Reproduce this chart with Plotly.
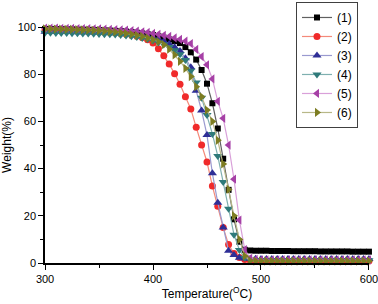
import plotly.graph_objects as go

temperature = [300, 305, 310, 315, 320, 325, 330, 335, 340, 345, 350, 355, 360, 365, 370,
               375, 380, 385, 390, 395, 400, 405, 410, 415, 420, 425, 430, 435, 440, 445,
               450, 455, 460, 465, 470, 475, 480, 485, 490, 495, 500, 505, 510, 515, 520,
               525, 530, 535, 540, 545, 550, 555, 560, 565, 570, 575, 580, 585, 590, 595, 600]

w1 = [99.2, 99.2, 99.1, 99.1, 99.0, 99.0, 98.9, 98.9, 98.8, 98.8, 98.7, 98.6, 98.5, 98.4, 98.3,
      98.1, 97.9, 97.6, 97.3, 97.0, 96.6, 96.1, 95.5, 94.8, 94.0, 93.2, 91.5, 89.3, 86.2, 81.8,
      76.0, 67.7, 57.0, 44.2, 31.0, 18.5, 9.0, 5.6, 5.3, 5.2, 5.2, 5.2, 5.1, 5.1, 5.1,
      5.1, 5.0, 5.0, 5.0, 5.0, 5.0, 4.9, 4.9, 4.9, 4.9, 4.9, 4.9, 4.8, 4.8, 4.8, 4.8]

w2 = [98.8, 98.8, 98.7, 98.7, 98.6, 98.6, 98.5, 98.4, 98.3, 98.2, 98.1, 98.0, 97.8, 97.6, 97.4,
      97.1, 96.7, 96.2, 95.6, 94.6, 93.2, 90.8, 87.8, 84.3, 80.2, 75.8, 70.5, 65.3, 57.5, 50.0,
      42.8, 32.6, 24.0, 15.0, 7.8, 4.0, 2.3, 1.5, 1.1, 1.0, 1.0, 0.9, 0.9, 0.9, 0.9,
      0.9, 0.9, 0.9, 0.9, 0.8, 0.8, 0.8, 0.8, 0.8, 0.8, 0.8, 0.8, 0.8, 0.8, 0.8, 0.8]

w3 = [98.0, 98.0, 98.0, 97.9, 97.9, 97.9, 97.8, 97.8, 97.8, 97.7, 97.7, 97.6, 97.5, 97.4, 97.3,
      97.2, 97.0, 96.7, 96.4, 96.0, 95.5, 94.8, 93.9, 92.8, 91.4, 89.8, 86.8, 83.0, 73.0, 64.6,
      54.2, 38.0, 25.5, 15.0, 5.2, 3.4, 2.2, 1.9, 1.8, 1.8, 1.7, 1.7, 1.7, 1.7, 1.7,
      1.7, 1.7, 1.7, 1.7, 1.7, 1.7, 1.7, 1.7, 1.7, 1.7, 1.7, 1.7, 1.7, 1.7, 1.7, 1.7]

w4 = [97.6, 97.6, 97.5, 97.5, 97.5, 97.4, 97.4, 97.3, 97.3, 97.2, 97.1, 97.0, 96.9, 96.8, 96.6,
      96.4, 96.1, 95.8, 95.4, 94.9, 94.3, 93.5, 92.6, 91.5, 90.2, 88.5, 86.0, 81.5, 76.5, 70.0,
      62.7, 54.7, 45.3, 34.3, 23.0, 12.0, 5.5, 2.2, 1.3, 1.2, 1.2, 1.2, 1.2, 1.2, 1.2,
      1.2, 1.2, 1.2, 1.2, 1.2, 1.2, 1.2, 1.2, 1.2, 1.2, 1.2, 1.2, 1.2, 1.2, 1.2, 1.2]

w5 = [99.5, 99.5, 99.5, 99.4, 99.4, 99.4, 99.3, 99.3, 99.3, 99.2, 99.2, 99.1, 99.0, 98.9, 98.8,
      98.7, 98.5, 98.3, 98.0, 97.7, 97.3, 96.9, 96.5, 96.0, 95.4, 94.8, 94.0, 93.0, 90.5, 87.5,
      84.0, 78.0, 68.5, 61.3, 50.0, 35.5, 18.2, 5.7, 2.0, 1.5, 1.3, 1.3, 1.3, 1.3, 1.3,
      1.3, 1.3, 1.3, 1.3, 1.3, 1.3, 1.3, 1.3, 1.3, 1.3, 1.3, 1.3, 1.3, 1.3, 1.3, 1.3]

w6 = [99.2, 99.2, 99.1, 99.1, 99.0, 99.0, 98.9, 98.8, 98.7, 98.6, 98.5, 98.3, 98.1, 97.9, 97.6,
      97.3, 96.9, 96.5, 96.0, 95.4, 94.7, 93.8, 92.5, 90.6, 88.2, 85.5, 82.5, 79.0, 74.7, 70.5,
      64.8, 60.0, 52.0, 42.0, 31.2, 20.0, 10.0, 3.0, 1.0, 0.8, 0.8, 0.8, 0.8, 0.8, 0.8,
      0.8, 0.8, 0.8, 0.8, 0.8, 0.8, 0.8, 0.8, 0.8, 0.8, 0.8, 0.8, 0.8, 0.8, 0.8, 0.8]

x_ticks = [300, 400, 500, 600]
y_ticks = [0, 20, 40, 60, 80, 100]

names = ["(1)", "(2)", "(3)", "(4)", "(5)", "(6)"]
series = [w1, w2, w3, w4, w5, w6]
marker_colors = ["#000000", "#f02a2a", "#2e2e96", "#2f7a7a", "#a640a6", "#7d7d22"]
line_colors = ["#606060", "#f48a7a", "#9a9ad0", "#7fb0b0", "#d9a0d9", "#b8b888"]
symbols = ["square", "circle", "triangle-up", "triangle-down", "triangle-left", "triangle-right"]
sizes = [6, 7, 8, 8, 8, 8]

fig = go.Figure()
for name, ys, mc, lc, sym, sz in zip(names, series, marker_colors, line_colors, symbols, sizes):
    fig.add_trace(go.Scatter(
        x=temperature, y=ys, name=name, mode="lines+markers",
        line=dict(color=lc, width=1.2),
        marker=dict(symbol=sym, size=sz, color=mc, line=dict(width=0)),
        cliponaxis=False,
    ))

font_family = "Liberation Sans, Arial, sans-serif"
fig.update_layout(
    width=378, height=304,
    margin=dict(l=45, r=9, t=27, b=41, autoexpand=False),
    paper_bgcolor="white", plot_bgcolor="white",
    font=dict(family=font_family, size=11, color="#000000"),
    legend=dict(
        x=0.966, xanchor="right", y=1.106, yanchor="top",
        bordercolor="#404040", borderwidth=1, bgcolor="white",
        font=dict(size=12), tracegroupgap=0,
    ),
    xaxis=dict(
        range=[299.95, 600.05], tickmode="array", tickvals=x_ticks,
        ticktext=[str(v) for v in x_ticks], automargin=False,
        ticklabeloverflow="allow",
        showline=True, linecolor="#000000", linewidth=1.5, mirror=False,
        ticks="outside", ticklen=5, tickwidth=1.2, tickcolor="#000000",
        minor=dict(ticks="outside", ticklen=3, tickvals=[350, 450, 550],
                   tickcolor="#000000", tickwidth=1),
        showgrid=False, zeroline=False,
        title=dict(text="Temperature(<sup>O</sup>C)", font=dict(size=12), standoff=5),
    ),
    yaxis=dict(
        range=[0, 100.02], tickmode="array", tickvals=y_ticks,
        ticktext=[str(v) for v in y_ticks], automargin=False,
        ticklabeloverflow="allow",
        showline=True, linecolor="#000000", linewidth=1.5, mirror=False,
        ticks="outside", ticklen=5, tickwidth=1.2, tickcolor="#000000",
        minor=dict(ticks="outside", ticklen=3, tickvals=[10, 30, 50, 70, 90],
                   tickcolor="#000000", tickwidth=1),
        showgrid=False, zeroline=False,
        title=dict(text="Weight(%)", font=dict(size=12), standoff=6),
    ),
)

fig.write_html(
    "out.html",
    config={"displayModeBar": False},
    post_script="document.body.style.margin='0px';document.body.style.overflow='hidden';",
)
